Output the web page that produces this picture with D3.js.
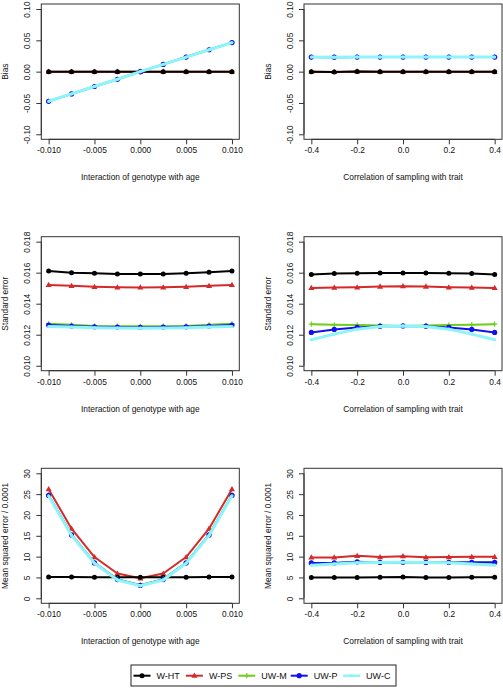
<!DOCTYPE html>
<html>
<head>
<meta charset="utf-8">
<script src="https://cdn.jsdelivr.net/npm/d3@7"></script>
<style>
  html, body { margin: 0; padding: 0; background: #fff; }
  svg { display: block; }
  text { font-family: "Liberation Sans", Arial, Helvetica, sans-serif; fill: #111; }
</style>
</head>
<body>
<svg id="chart" width="503" height="688"></svg>
<script>
// ---------------- data ----------------
const seriesNames = ["W-HT", "W-PS", "UW-M", "UW-P", "UW-C"];
const interaction = [-0.010, -0.0075, -0.005, -0.0025, 0, 0.0025, 0.005, 0.0075, 0.010];
const correlation = [-0.4, -0.3, -0.2, -0.1, 0, 0.1, 0.2, 0.3, 0.4];

const interactionTicks = [-0.010, -0.005, 0, 0.005, 0.010];
const interactionTickLabels = ["-0.010", "-0.005", "0.000", "0.005", "0.010"];
const correlationTicks = [-0.4, -0.2, 0, 0.2, 0.4];
const correlationTickLabels = ["-0.4", "-0.2", "0.0", "0.2", "0.4"];
const biasTicks = [-0.10, -0.05, 0, 0.05, 0.10];
const biasTickLabels = ["-0.10", "-0.05", "0.00", "0.05", "0.10"];
const seTicks = [0.010, 0.012, 0.014, 0.016, 0.018];
const seTickLabels = ["0.010", "0.012", "0.014", "0.016", "0.018"];
const mseTicks = [0, 5, 10, 15, 20, 25, 30];
const mseTickLabels = ["0", "5", "10", "15", "20", "25", "30"];

// Bias vs interaction
const biasIntWHT = [0, 0, 0, 0, 0, 0, 0, 0, 0];
const biasIntWPS = [0, 0, 0, 0, 0, 0, 0, 0, 0];
const biasIntUWM = [-0.0473, -0.0355, -0.0237, -0.0121, 0, 0.0116, 0.0233, 0.0350, 0.0464];
const biasIntUWP = [-0.0473, -0.0355, -0.0237, -0.0121, 0, 0.0116, 0.0233, 0.0350, 0.0464];
const biasIntUWC = [-0.0473, -0.0355, -0.0237, -0.0121, 0, 0.0116, 0.0233, 0.0350, 0.0464];
// Bias vs correlation
const biasCorWHT = [0, -0.0004, 0.0003, 0, 0, 0, 0, 0, 0];
const biasCorWPS = [0, -0.0004, 0.0003, 0, 0, 0, 0, 0, 0];
const biasCorUWM = [0.0232, 0.0231, 0.0233, 0.0232, 0.0232, 0.0232, 0.0233, 0.0232, 0.0232];
const biasCorUWP = [0.0232, 0.0231, 0.0233, 0.0232, 0.0232, 0.0232, 0.0233, 0.0232, 0.0232];
const biasCorUWC = [0.0232, 0.0231, 0.0233, 0.0232, 0.0232, 0.0232, 0.0233, 0.0232, 0.0232];
// SE vs interaction
const seIntWHT = [0.01611, 0.01600, 0.01596, 0.01591, 0.01591, 0.01591, 0.01596, 0.01602, 0.01611];
const seIntWPS = [0.01521, 0.01515, 0.01509, 0.01506, 0.01505, 0.01506, 0.01509, 0.01515, 0.01521];
const seIntUWM = [0.01270, 0.01264, 0.01257, 0.01255, 0.01254, 0.01255, 0.01257, 0.01264, 0.01270];
const seIntUWP = [0.01262, 0.01256, 0.01251, 0.01249, 0.01247, 0.01249, 0.01251, 0.01256, 0.01262];
const seIntUWC = [0.01253, 0.01249, 0.01245, 0.01243, 0.01242, 0.01243, 0.01245, 0.01249, 0.01253];
// SE vs correlation
const seCorWHT = [0.01589, 0.01594, 0.01596, 0.01598, 0.01598, 0.01598, 0.01596, 0.01594, 0.01589];
const seCorWPS = [0.01502, 0.01504, 0.01506, 0.01511, 0.01513, 0.01511, 0.01506, 0.01504, 0.01502];
const seCorUWM = [0.01268, 0.01264, 0.01262, 0.01260, 0.01257, 0.01260, 0.01262, 0.01264, 0.01268];
const seCorUWP = [0.01215, 0.01234, 0.01247, 0.01255, 0.01257, 0.01255, 0.01247, 0.01234, 0.01215];
const seCorUWC = [0.01168, 0.01204, 0.01236, 0.01253, 0.01257, 0.01253, 0.01236, 0.01204, 0.01168];
// MSE vs interaction
const mseIntWHT = [5.1, 5.1, 5.05, 5.05, 5.05, 5.05, 5.05, 5.1, 5.1];
const mseIntWPS = [26.2, 16.7, 9.9, 5.95, 4.8, 5.95, 9.9, 16.7, 26.2];
const mseIntUWM = [24.8, 15.3, 8.6, 4.6, 3.2, 4.6, 8.6, 15.3, 24.8];
const mseIntUWP = [24.7, 15.2, 8.5, 4.5, 3.1, 4.5, 8.5, 15.2, 24.7];
const mseIntUWC = [24.6, 15.1, 8.4, 4.4, 3.0, 4.4, 8.4, 15.1, 24.6];
// MSE vs correlation
const mseCorWHT = [5.0, 5.0, 5.0, 5.05, 5.1, 5.0, 5.0, 5.05, 5.05];
const mseCorWPS = [9.8, 9.8, 10.2, 9.9, 10.1, 9.85, 9.9, 9.95, 9.95];
const mseCorUWM = [8.5, 8.5, 8.7, 8.6, 8.6, 8.6, 8.6, 8.6, 8.7];
const mseCorUWP = [8.5, 8.5, 8.75, 8.6, 8.65, 8.6, 8.6, 8.65, 8.6];
const mseCorUWC = [7.95, 8.25, 8.55, 8.6, 8.65, 8.6, 8.55, 8.25, 7.95];

// ---------------- styles ----------------
const seriesColors = ["#000000", "#d42a2a", "#6ccd1a", "#1010f0", "#8ef4fb"];
const seriesWidths = [2, 2, 2, 2, 3];
const drawOrder = [1, 0, 2, 3, 4];

const svg = d3.select("#chart");

const colBox = [[41.3, 239.3], [304, 502]];
const rowBox = [[4, 139.3], [236.7, 370.7], [468.3, 603.3]];

const xDefs = [
  { domain: [-0.0108, 0.0108], values: interaction, ticks: interactionTicks, labels: interactionTickLabels, title: "Interaction of genotype with age" },
  { domain: [-0.432, 0.432], values: correlation, ticks: correlationTicks, labels: correlationTickLabels, title: "Correlation of sampling with trait" }
];
const yDefs = [
  { domain: [-0.108, 0.108], ticks: biasTicks, labels: biasTickLabels, title: "Bias" },
  { domain: [0.00968, 0.01832], ticks: seTicks, labels: seTickLabels, title: "Standard error" },
  { domain: [-1.2, 31.2], ticks: mseTicks, labels: mseTickLabels, title: "Mean squared error / 0.0001" }
];
const panelData = [
  [[biasIntWHT, biasIntWPS, biasIntUWM, biasIntUWP, biasIntUWC], [biasCorWHT, biasCorWPS, biasCorUWM, biasCorUWP, biasCorUWC]],
  [[seIntWHT, seIntWPS, seIntUWM, seIntUWP, seIntUWC], [seCorWHT, seCorWPS, seCorUWM, seCorUWP, seCorUWC]],
  [[mseIntWHT, mseIntWPS, mseIntUWM, mseIntUWP, mseIntUWC], [mseCorWHT, mseCorWPS, mseCorUWM, mseCorUWP, mseCorUWC]]
];

const FS = 8.4;

function drawMarker(g, si, cx, cy) {
  const c = seriesColors[si];
  if (si === 0) {
    g.append("circle").attr("cx", cx).attr("cy", cy).attr("r", 2.5).attr("fill", c);
  } else if (si === 1) {
    g.append("path").attr("transform", `translate(${cx},${cy + 0.4})`)
      .attr("d", d3.symbol(d3.symbolTriangle, 16)()).attr("fill", c);
  } else if (si === 2) {
    g.append("path").attr("d", `M${cx - 2.6},${cy}H${cx + 2.6}M${cx},${cy - 2.6}V${cy + 2.6}`)
      .attr("stroke", c).attr("stroke-width", 1.2);
  } else if (si === 3) {
    g.append("circle").attr("cx", cx).attr("cy", cy).attr("r", 2.6).attr("fill", c);
  } else {
    g.append("circle").attr("cx", cx).attr("cy", cy).attr("r", 1.6).attr("fill", c);
  }
}

rowBox.forEach((rb, r) => {
  colBox.forEach((cb, c) => {
    const xd = xDefs[c], yd = yDefs[r];
    const x = d3.scaleLinear().domain(xd.domain).range(cb);
    const y = d3.scaleLinear().domain(yd.domain).range([rb[1], rb[0]]);
    const g = svg.append("g");

    // x axis
    const xa = g.append("g").attr("transform", `translate(0,${rb[1]})`)
      .call(d3.axisBottom(x).tickValues(xd.ticks).tickFormat((d, i) => xd.labels[i]).tickSize(5).tickSizeOuter(0));
    xa.select(".domain").attr("d", `M${x(xd.ticks[0])},0H${x(xd.ticks[xd.ticks.length - 1])}`).attr("stroke", "#333");
    xa.selectAll(".tick line").attr("stroke", "#333");
    xa.selectAll(".tick text").attr("y", 11).attr("dy", "0.35em").style("font-size", FS + "px")
      .style("font-family", "'Liberation Sans', Arial, sans-serif").attr("fill", "#111");

    // y axis
    const ya = g.append("g").attr("transform", `translate(${cb[0]},0)`)
      .call(d3.axisLeft(y).tickValues(yd.ticks).tickFormat((d, i) => yd.labels[i]).tickSize(5).tickSizeOuter(0));
    ya.select(".domain").attr("d", `M0,${y(yd.ticks[0])}V${y(yd.ticks[yd.ticks.length - 1])}`).attr("stroke", "#333");
    ya.selectAll(".tick line").attr("stroke", "#333");
    ya.selectAll(".tick text").attr("x", 0).attr("y", -14).attr("dy", "0.35em")
      .attr("transform", "rotate(-90)").attr("text-anchor", "middle")
      .style("font-size", FS + "px").style("font-family", "'Liberation Sans', Arial, sans-serif").attr("fill", "#111");

    // box
    g.append("rect").attr("x", cb[0]).attr("y", rb[0]).attr("width", cb[1] - cb[0]).attr("height", rb[1] - rb[0])
      .attr("fill", "none").attr("stroke", "#333").attr("stroke-width", 1);

    // titles
    g.append("text").attr("x", (cb[0] + cb[1]) / 2).attr("y", rb[1] + 38).attr("dy", "0.35em")
      .attr("text-anchor", "middle").style("font-size", FS + "px").text(xd.title);
    g.append("text").attr("transform", `translate(${cb[0] - 36},${(rb[0] + rb[1]) / 2}) rotate(-90)`)
      .attr("dy", "0.35em").attr("text-anchor", "middle").style("font-size", FS + "px").text(yd.title);

    // series
    const line = d3.line().x((d, i) => x(xd.values[i])).y(d => y(d));
    const sg = g.append("g");
    drawOrder.forEach(si => {
      const vals = panelData[r][c][si];
      sg.append("path").datum(vals).attr("d", line).attr("fill", "none")
        .attr("stroke", seriesColors[si]).attr("stroke-width", seriesWidths[si]).attr("stroke-linejoin", "round");
      vals.forEach((v, i) => drawMarker(sg, si, x(xd.values[i]), y(v)));
    });
  });
});

// legend
const lg = svg.append("g");
lg.append("rect").attr("x", 131).attr("y", 665).attr("width", 265).attr("height", 21)
  .attr("fill", "#fff").attr("stroke", "#222").attr("stroke-width", 1);
const legStep = 52.4;
seriesNames.forEach((name, i) => {
  const x0 = 133.5 + i * legStep;
  const cy = 675.7;
  lg.append("line").attr("x1", x0).attr("x2", x0 + 17).attr("y1", cy).attr("y2", cy)
    .attr("stroke", seriesColors[i]).attr("stroke-width", seriesWidths[i] === 3 ? 2.5 : 2);
  drawMarker(lg, i, x0 + 8.5, cy);
  lg.append("text").attr("x", x0 + 23).attr("y", cy).attr("dy", "0.35em")
    .style("font-size", "9px").text(name);
});
</script>
</body>
</html>
